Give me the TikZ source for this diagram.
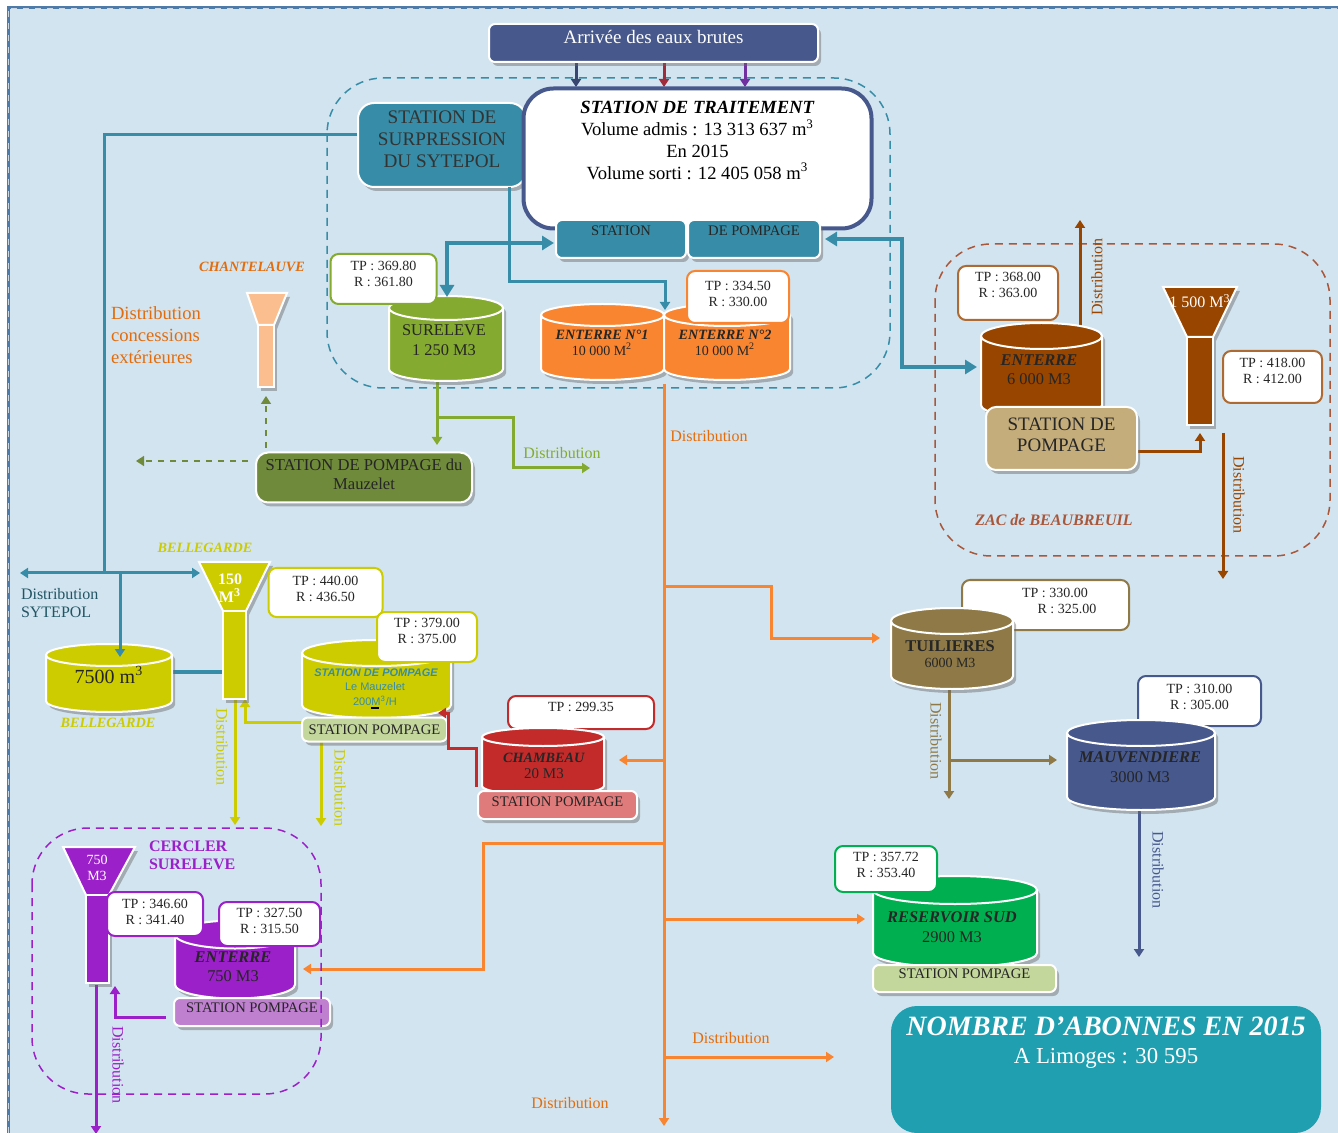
\documentclass[tikz,border=0pt]{standalone}
\usepackage{fontspec}
\setmainfont{Liberation Serif}
\setsansfont{Liberation Sans}
\usepackage{xcolor}
\usetikzlibrary{calc}
\usetikzlibrary{arrows.meta}
\usetikzlibrary{shadows}
\usetikzlibrary{shapes.geometric}

\definecolor{fondbleu}{HTML}{D2E4F0}
\definecolor{cadre}{HTML}{4F7BA8}
\definecolor{nuit}{HTML}{46588C}
\definecolor{bordeaux}{HTML}{A02B3A}
\definecolor{violet}{HTML}{7030A0}
\definecolor{sarcelle}{HTML}{378DA7}
\definecolor{herbe}{HTML}{84AB2F}
\definecolor{olive}{HTML}{6F8A3B}
\definecolor{orange}{HTML}{F98531}
\definecolor{orangefonce}{HTML}{E46C0A}
\definecolor{peche}{HTML}{FBBF8F}
\definecolor{jaune}{HTML}{CCCC00}
\definecolor{rouge}{HTML}{C32B2B}
\definecolor{rose}{HTML}{E07B7B}
\definecolor{pourpre}{HTML}{9B20C9}
\definecolor{mauve}{HTML}{BF80D0}
\definecolor{brun}{HTML}{984500}
\definecolor{brique}{HTML}{A9573A}
\definecolor{sable}{HTML}{C4AD7B}
\definecolor{kaki}{HTML}{8F7A47}
\definecolor{vert}{HTML}{00B050}
\definecolor{tilleul}{HTML}{C3D69B}
\definecolor{lagon}{HTML}{1F9FAF}

\newcommand{\lift}[1]{\rule[-#1]{0pt}{#1}}
\newcommand{\fs}[1]{\fontsize{#1}{#1}\selectfont}
\newcommand{\couvercle}[1]{\rule{#1pt}{0pt}}

\tikzset{
  every node/.style={inner sep=0pt, outer sep=0pt, align=center, font=\fs{8.2}, text=black!85},
  ombre/.style={drop shadow={shadow xshift=1.5pt, shadow yshift=-2pt, fill=black!60, opacity=.45}},
  bloc/.style={rectangle, rounded corners=3pt, fill=#1, draw=white, line width=1pt, ombre},
  cuve/.style={cylinder, shape border rotate=90, aspect=1, draw=white, line width=1pt, fill=#1, ombre},
  tp/.style={rectangle, rounded corners=4pt, fill=white, draw=#1, line width=1pt, font=\fs{7}},
  zone/.style={draw=#1, dashed, dash pattern=on 4pt off 3pt, line width=.75pt, rounded corners=28pt},
  silo/.style={fill=#1, draw=white, line width=1pt, ombre},
  tuyau/.style={draw=#1, line width=1.5pt, -{Triangle[width=5pt,length=4pt]}},
  trait/.style={draw=#1, line width=1.5pt},
  gros/.style={draw=#1, line width=2pt, {Triangle[width=7pt,length=6pt]}-{Triangle[width=7pt,length=6pt]}},
  distrib/.style={text=#1, font=\fs{8}},
  nom/.style={text=#1, font=\fs{7.1}\bfseries\itshape},
  pompe/.style={bloc=#1, font=\fs{7.3}},
}

\begin{document}
\begin{tikzpicture}[x=0.5pt,y=-0.5pt]
\useasboundingbox (0,0) rectangle (1338,1133);

% fond
\fill[white] (0,0) rectangle (1338,1133);
\fill[fondbleu] (8,8) rectangle (1338,1133);
\draw[cadre, line width=1.5pt] (8,1133) -- (8,8) -- (1338,8);
\draw[white!70!cadre, line width=.4pt, dashed] (8,1133) -- (8,8) -- (1338,8);

% zones
\draw[zone=sarcelle] (327,78) rectangle (890,388);
\draw[zone=brique] (935,244) rectangle (1330,556);

% points de passage
\coordinate (sup_o) at (359,135);
\coordinate (syt) at (104,573);
\coordinate (syt_g) at (20,573);
\coordinate (syt_d) at (200,573);
\coordinate (syt_b) at (120,573);
\coordinate (sup_s) at (509,187);
\coordinate (ent1_h) at (665,310);
\coordinate (bleu_d) at (554,243);
\coordinate (bleu_b) at (447,297);
\coordinate (zac_h) at (825,239);
\coordinate (zac_m) at (902,239);
\coordinate (zac_b) at (977,367);
\coordinate (or_h) at (664,384);
\coordinate (or_b) at (664,1126);
\coordinate (or_tui) at (664,586);
\coordinate (tui_e) at (880,638);
\coordinate (or_cha) at (664,760);
\coordinate (cha_e) at (619,760);
\coordinate (or_cer) at (664,843);
\coordinate (cer_e) at (303,969);
\coordinate (or_res) at (664,919);
\coordinate (res_e) at (865,919);
\coordinate (or_dis) at (664,1057);
\coordinate (dis_e) at (834,1057);

% conduites sous les blocs
\draw[tuyau=nuit!80!black] (576,62) -- (576,87);
\draw[tuyau=bordeaux] (664,62) -- (664,87);
\draw[tuyau=violet] (745,62) -- (745,87);
\draw[trait=sarcelle] (sup_o) -| (syt);
\draw[tuyau=sarcelle] (syt) -- (syt_g);
\draw[tuyau=sarcelle] (syt) -- (syt_d);
\draw[gros=sarcelle] (zac_h) -| (zac_m) |- (zac_b);
\draw[tuyau=orange] (or_h) -- (or_b);
\draw[tuyau=orange] (or_tui) -| (771,638) -- (tui_e);
\draw[tuyau=orange] (or_cha) -- (cha_e);
\draw[tuyau=orange] (or_cer) -| (483,969) -- (cer_e);
\draw[tuyau=orange] (or_res) -- (res_e);
\draw[tuyau=orange] (or_dis) -- (dis_e);
\draw[tuyau=herbe] (437,380) -- (437,445);
\draw[tuyau=herbe] (437,418) -| (513,468) -- (590,468);
\draw[tuyau=olive, line width=.75pt, dashed] (266,448) -- (266,396);
\draw[tuyau=olive, line width=.75pt, dashed] (248,461) -- (136,461);

% arrivee et traitement
\node[bloc=nuit, minimum width=164.5pt, minimum height=19pt, text=white, font=\fs{9.5}] (arrivee) at (653.5,43) {Arrivée des eaux brutes\lift{6pt}};
\node[bloc=sarcelle, rounded corners=8pt, minimum width=84pt, minimum height=42pt, font=\fs{9.6}, text=black!80] (surpression) at (442,145) {STATION DE\\[1.3pt]SURPRESSION\\[1.3pt]DU SYTEPOL\lift{6pt}};
\node[rectangle, rounded corners=15pt, draw=nuit, line width=2pt, fill=white, minimum width=174pt, minimum height=70pt, font=\fs{9.3}, text=black] (traitement) at (697.5,158.5)
  {\textbf{\textit{STATION DE TRAITEMENT}}\\[1.6pt]Volume admis : 13 313 637 m\textsuperscript{3}\\[1.6pt]En 2015\\[1.6pt]Volume sorti : 12 405 058 m\textsuperscript{3}\lift{18pt}};
\node[pompe=sarcelle, minimum width=65pt, minimum height=19pt] (station) at (621,239) {STATION\lift{8pt}};
\node[pompe=sarcelle, minimum width=66pt, minimum height=19pt] (depompage) at (754,239) {DE POMPAGE\lift{8pt}};

% sureleve et enterres
\node[cuve=herbe, minimum width=57pt, minimum height=42.5pt] (sureleve) at (446,345) {\couvercle{12}};
\node (sureleve_t) at (444,340) {SURELEVE\\[1.5pt]1 250 M3};
\node[cuve=orange, minimum width=61.5pt, minimum height=38pt] (enterre1) at (602.5,348) {\couvercle{11}};
\node[cuve=orange, minimum width=63pt, minimum height=38pt] (enterre2) at (727,348) {\couvercle{11}};
\node (enterre1_t) at (602,343) {\textbf{\textit{\fs{7.1}ENTERRE N°1}}\\[0pt]{\fs{7}10 000 M\textsuperscript{2}}};
\node (enterre2_t) at (725,343) {\textbf{\textit{\fs{7.1}ENTERRE N°2}}\\[0pt]{\fs{7}10 000 M\textsuperscript{2}}};
\draw[tuyau=sarcelle] (sup_s) |- (590,282) -| (ent1_h);
\draw[gros=sarcelle] (bleu_b) |- (bleu_d);
\node[tp=herbe, minimum width=53pt, minimum height=25pt] (tpsureleve) at (383.5,279) {TP : 369.80\\[1pt]R : 361.80\lift{5pt}};
\node[tp=orange, minimum width=51pt, minimum height=26pt] (tpenterre) at (738,297) {TP : 334.50\\[1pt]R : 330.00\lift{3pt}};
\node[distrib=orangefonce] (dist_or1) at (709,436) {Distribution};
\node[distrib=orangefonce] (dist_or2) at (731,1038) {Distribution};
\node[distrib=orangefonce] (dist_or3) at (570,1103) {Distribution};
\node[distrib=herbe] (dist_ve) at (562,453) {Distribution};

% chantelauve
\draw[silo=peche] (247,293) -- (287,293) -- (274,325) -- (258,325) -- cycle;
\draw[silo=peche] (258,325) rectangle (274,387);
\node[nom=orangefonce] (chantelauve) at (252,267) {CHANTELAUVE};
\node[anchor=west, text=orangefonce, font=\fs{9.3}] (conc1) at (111,313) {Distribution};
\node[anchor=west, text=orangefonce, font=\fs{9.3}] (conc2) at (111,335) {concessions};
\node[anchor=west, text=orangefonce, font=\fs{9.3}] (conc3) at (111,357) {extérieures};
\node[bloc=olive, rounded corners=6pt, minimum width=108pt, minimum height=25pt, font=\fs{8.3}] (mauzelet) at (364,477.5) {STATION DE POMPAGE du\\[1pt]Mauzelet\lift{3pt}};

% bellegarde
\draw[trait=sarcelle, line width=2pt] (172,672) -- (223,672);
\node[cuve=jaune, minimum width=63pt, minimum height=34pt] (cuve7500) at (109,684) {\couvercle{11}};
\node[font=\fs{10}] (cuve7500_t) at (109,675) {7500 m\textsuperscript{3}};
\draw[tuyau=sarcelle] (syt_b) -- (120,657);
\draw[tuyau=jaune] (235,699) -- (235,825);
\draw[tuyau=jaune] (302,722) -| (245,699);
\draw[tuyau=jaune] (321,741) -- (321,826);
\draw[silo=jaune] (199,562) -- (270,562) -- (246,611) -- (223,611) -- cycle;
\draw[silo=jaune] (223,611) rectangle (246,699);
\node[text=white, font=\fs{8}\bfseries] (cap150) at (230,588) {150\\[1pt]M\textsuperscript{3}};
\node[nom=jaune] (nombelle1) at (205,548) {BELLEGARDE};
\node[nom=jaune] (nombelle2) at (108,723) {BELLEGARDE};
\node[tp=jaune, minimum width=57pt, minimum height=24.5pt] (tpbelle) at (325.5,592.5) {TP : 440.00\\[1pt]R : 436.50\lift{4pt}};
\node[cuve=jaune, minimum width=74.5pt, minimum height=39pt] (cuvemauz) at (376.5,686) {\couvercle{13}};
\node[text=sarcelle, font=\sffamily\fs{5.5}\bfseries\itshape] (mauz1) at (376,673) {STATION DE POMPAGE};
\node[text=sarcelle, font=\sffamily\fs{5.5}] (mauz2) at (375,687) {Le Mauzelet};
\node[text=sarcelle, font=\sffamily\fs{5.5}] (mauz3) at (375,701) {200M\textsuperscript{3}/H};
\draw[black, line width=.6pt] (371,708) -- (379,708);
\node[tp=jaune, minimum width=50pt, minimum height=25pt] (tpmauz) at (427,637) {TP : 379.00\\[1pt]R : 375.00\lift{6pt}};
\node[pompe=tilleul, minimum width=72.5pt, minimum height=12pt] (pompmauz) at (374.5,729.5) {STATION POMPAGE};
\node[distrib=jaune, rotate=-90] (dist_ja1) at (222,747) {Distribution};
\node[distrib=jaune, rotate=-90] (dist_ja2) at (340,788) {Distribution};
\node[anchor=west, text=sarcelle!60!black, font=\fs{8}] (syt1) at (21,594) {Distribution};
\node[anchor=west, text=sarcelle!60!black, font=\fs{8}] (syt2) at (21,612) {SYTEPOL};

% chambeau
\draw[tuyau=rouge] (476,787) |- (462,748) -| (448,713) -- (438,713);
\node[tp=rouge, minimum width=73pt, minimum height=16.5pt] (tpchambeau) at (581,712.5) {TP : 299.35\lift{6pt}};
\node[cuve=rouge, minimum width=61pt, minimum height=33.5pt] (chambeau) at (543,766.5) {\couvercle{9}};
\node (chambeau_t) at (544,766) {\textbf{\textit{\fs{7.1}CHAMBEAU}}\\[0pt]{\fs{7.5}20 M3}};
\node[pompe=rose, minimum width=79.5pt, minimum height=14pt] (pompchambeau) at (557.5,805) {STATION POMPAGE\lift{3pt}};

% cercler
\draw[tuyau=pourpre] (96,985) -- (96,1134);
\draw[tuyau=pourpre] (166,1017) -| (115,986);
\draw[silo=pourpre] (63,847) -- (135,847) -- (109,895) -- (86,895) -- cycle;
\draw[silo=pourpre] (86,895) rectangle (109,983);
\node[text=white, font=\fs{7}] (cap750) at (97,868) {750\\[1pt]M3};
\node[cuve=pourpre, minimum width=60pt, minimum height=39pt] (enterre750) at (235,967) {\couvercle{14}};
\node (enterre750_t) at (233,966.5) {\textbf{\textit{ENTERRE}}\\[1.5pt]750 M3};
\node[pompe=mauve, minimum width=78pt, minimum height=14pt] (pompcercler) at (252,1012) {STATION POMPAGE\lift{4pt}};
\node[tp=pourpre, minimum width=48pt, minimum height=22pt] (tpcercler) at (155,914) {TP : 346.60\\[1pt]R : 341.40\lift{2pt}};
\node[tp=pourpre, minimum width=50.5pt, minimum height=22pt] (tpenterre750) at (269.5,924) {TP : 327.50\\[1pt]R : 315.50\lift{3pt}};
\node[anchor=west, text=pourpre, font=\fs{8}\bfseries] (cer1) at (149,846) {CERCLER};
\node[anchor=west, text=pourpre, font=\fs{8}\bfseries] (cer2) at (149,864) {SURELEVE};
\node[distrib=pourpre, rotate=-90] (dist_pu) at (118,1065) {Distribution};
\draw[zone=pourpre] (32,828) rectangle (321,1094);

% beaubreuil
\draw[tuyau=brun] (1080,330) -- (1080,220);
\draw[tuyau=brun] (1223,433) -- (1223,579);
\draw[tuyau=brun] (1137,452) -| (1200,433);
\node[tp=brun!80!white, minimum width=50pt, minimum height=27pt] (tpzac) at (1008,293) {TP : 368.00\\[1pt]R : 363.00\lift{8pt}};
\node[cuve=brun, minimum width=60.5pt, minimum height=47.5pt] (enterrezac) at (1041.5,377.5) {\couvercle{13}};
\node (enterrezac_t) at (1039,369.5) {\textbf{\textit{ENTERRE}}\\[1.5pt]6 000 M3};
\node[bloc=sable, rounded corners=5pt, minimum width=75.5pt, minimum height=31.5pt, font=\fs{9.5}] (pompzac) at (1061.5,438.5) {STATION DE\\[1pt]POMPAGE\lift{4pt}};
\draw[silo=brun] (1163,287) -- (1237,287) -- (1213,337) -- (1187,337) -- cycle;
\draw[silo=brun] (1187,337) rectangle (1213,425);
\node[text=white, font=\fs{8}] (cap1500) at (1200,301) {1 500 M\textsuperscript{3}};
\node[tp=brun!80!white, minimum width=49.5pt, minimum height=26pt] (tpsilo) at (1272.5,377) {TP : 418.00\\[1pt]R : 412.00\lift{6pt}};
\node[distrib=brun, rotate=90] (dist_br1) at (1097,277) {Distribution};
\node[distrib=brun, rotate=-90] (dist_br2) at (1239,495) {Distribution};
\node[nom=brique, font=\fs{8}\bfseries\itshape] (zacnom) at (1054,520) {ZAC de BEAUBREUIL};

% tuilieres et mauvendiere
\draw[tuyau=kaki] (949,689) -- (949,799);
\draw[tuyau=kaki] (949,760) -- (1057,760);
\node[tp=kaki, minimum width=83.5pt, minimum height=25pt] (tptuilieres) at (1045.5,605) {\hspace{9.5pt}TP : 330.00\\[1pt]\hspace{21.5pt}R : 325.00\lift{4pt}};
\node[cuve=kaki, minimum width=61pt, minimum height=40.5pt] (tuilieres) at (952,655.5) {\couvercle{13}};
\node (tuilieres_t) at (950,654) {\textbf{TUILIERES}\\[0pt]{\fs{7}6000 M3}};
\node[distrib=kaki, rotate=-90] (dist_ka) at (936,741) {Distribution};
\draw[tuyau=nuit] (1139,810) -- (1139,957);
\node[tp=nuit, minimum width=61.5pt, minimum height=25pt] (tpmauv) at (1199.5,701) {TP : 310.00\\[1pt]R : 305.00\lift{4pt}};
\node[cuve=nuit, minimum width=74pt, minimum height=45pt] (mauvendiere) at (1141,772) {\couvercle{13}};
\node (mauvendiere_t) at (1140,767) {\textbf{\textit{MAUVENDIERE}}\\[1.5pt]3000 M3};
\node[distrib=nuit, rotate=-90] (dist_nu) at (1158,870) {Distribution};

% reservoir sud
\node[cuve=vert, minimum width=82pt, minimum height=45.5pt] (reservoir) at (955,929) {\couvercle{14}};
\node (reservoir_t) at (952,927) {\textbf{\textit{RESERVOIR SUD}}\\[1.5pt]2900 M3};
\node[tp=vert, minimum width=51pt, minimum height=23pt] (tpreservoir) at (886,869) {TP : 357.72\\[1pt]R : 353.40\lift{4pt}};
\node[pompe=tilleul, minimum width=91.5pt, minimum height=13.5pt] (pompreservoir) at (964.5,978.5) {STATION POMPAGE\lift{5pt}};

% abonnes
\node[rectangle, rounded corners=13pt, fill=lagon, minimum width=215pt, minimum height=63.5pt, text=white, font=\fs{10}] (abonnes) at (1106,1069.5)
  {\textbf{\textit{\fs{14}NOMBRE D’ABONNES EN 2015}}\\[4pt]{\fs{11.4}A Limoges : 30 595}\lift{29pt}};

\end{tikzpicture}
\end{document}
